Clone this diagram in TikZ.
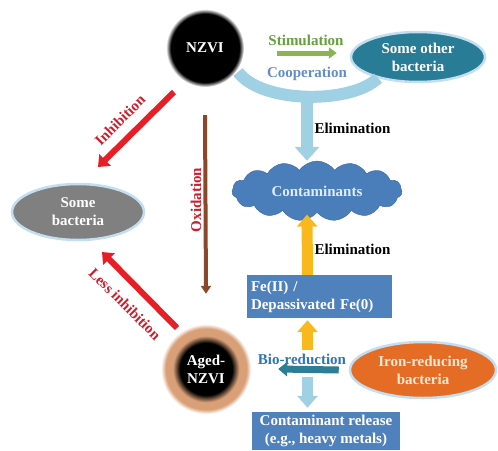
\documentclass[tikz,border=0pt]{standalone}
\usepackage{fontspec}
\setmainfont{Liberation Serif}
\usetikzlibrary{shapes.geometric,shapes.symbols,arrows.meta,calc}
\definecolor{cloudblue}{RGB}{74,126,187}
\definecolor{cloudedge}{RGB}{60,100,160}
\definecolor{boxblue}{RGB}{79,129,189}
\definecolor{tealell}{RGB}{40,124,150}
\definecolor{glow}{RGB}{195,222,240}
\definecolor{orangeell}{RGB}{228,108,37}
\definecolor{grayell}{RGB}{128,128,128}
\definecolor{tanhalo}{RGB}{217,160,120}
\definecolor{redarr}{RGB}{232,30,38}
\definecolor{redtxt}{RGB}{205,30,45}
\definecolor{brownarr}{RGB}{140,70,40}
\definecolor{greentxt}{RGB}{100,160,60}
\definecolor{greenarr}{RGB}{140,180,80}
\definecolor{cooptxt}{RGB}{100,140,200}
\definecolor{lightblue}{RGB}{160,208,228}
\definecolor{yellowarr}{RGB}{248,184,30}
\definecolor{biotxt}{RGB}{46,117,182}
\definecolor{bioarr}{RGB}{45,125,150}
\definecolor{conttxt}{RGB}{225,235,250}
\definecolor{creamtxt}{RGB}{252,232,215}
\pgfdeclareradialshading{nzvishade}{\pgfpoint{0bp}{0bp}}{color(0bp)=(black); color(22bp)=(black); color(25bp)=(white); color(50bp)=(white)}
\pgfdeclareradialshading{agedshade}{\pgfpoint{0bp}{0bp}}{color(0bp)=(black); color(14.5bp)=(black); color(18.5bp)=(tanhalo); color(22.5bp)=(tanhalo); color(25bp)=(white); color(50bp)=(white)}
\tikzset{
  lbl/.style={font=\bfseries\fontsize{15}{18}\selectfont},
  ell/.style={ellipse, lbl, align=center, inner sep=0pt},
  boxnode/.style={rectangle, fill=boxblue, text=white, lbl},
  redarrow/.style={draw=redarr, line width=6pt, -{Triangle[length=10pt,width=16pt]}},
}
\begin{document}
\begin{tikzpicture}[x=1pt,y=-1pt]
\useasboundingbox (0,0) rectangle (498,450);
% nodes
\node[circle, minimum size=78pt, shading=nzvishade, text=white, lbl] (nzvi) at (205,48) {NZVI};
\node[ell, fill=tealell, draw=glow, line width=2.5pt, minimum width=134pt, minimum height=50pt, text=white] (other) at (418,57) {Some other\\bacteria};
\node[ell, fill=grayell, draw=glow, line width=2.5pt, minimum width=132pt, minimum height=56pt, text=white] (sb) at (78,212) {Some\\bacteria};
\node[cloud, cloud puffs=15, cloud puff arc=110, aspect=3, fill=cloudblue, draw=cloudedge, minimum width=170pt, minimum height=60pt, inner sep=0pt, text=conttxt, lbl] (cont) at (317,191) {Contaminants};
\node[boxnode, text width=137pt, align=left, inner xsep=4pt, minimum height=43pt] (fe) at (319.5,296.5) {Fe(II) /\\Depassivated Fe(0)};
\node[boxnode, align=center, minimum width=148pt, minimum height=38pt, inner sep=0pt] (rel) at (326,431) {Contaminant release\\(e.g., heavy metals)};
\node[ell, fill=orangeell, draw=glow, line width=2.5pt, minimum width=146pt, minimum height=56pt, text=creamtxt] (irb) at (423,370) {Iron-reducing\\bacteria};
\node[circle, minimum size=90pt, shading=agedshade, text=white, lbl, align=center] (aged) at (206,369) {Aged-\\NZVI};
% hub coordinates
\coordinate (coopmid) at (307,94);
\coordinate (hubup) at (307.5,350);
\coordinate (hubdown) at (307.5,377);
% connectors
\draw[greenarr, line width=5pt, -{Triangle[length=8pt,width=11pt]}] ([yshift=-5pt]nzvi.east) ++(33,0) -- ([yshift=4pt,xshift=-13pt]other.west);
\draw[lightblue, line width=12pt] ($(nzvi)+(33,24)$) .. controls (262,104) and (352,104) .. ($(other)+(-40,21)$);
\draw[lightblue, line width=12pt, -{Triangle[length=14pt,width=24pt]}] (coopmid) -- ([xshift=-10pt]cont.north);
\draw[brownarr, line width=4pt, -{Triangle[length=8pt,width=10pt]}] (nzvi.south) ++(0,28) -- ([yshift=30pt]aged.north);
\draw[redarrow] ($(nzvi)+(-31,44)$) -- ($(sb)+(20,-45)$);
\draw[redarrow] ($(aged)+(-29,-41)$) -- ($(sb)+(24,40)$);
\draw[yellowarr, line width=11pt, -{Triangle[length=12pt,width=20pt]}] ([xshift=-12pt]fe.north) -- ([xshift=-10pt,yshift=-2pt]cont.south);
\draw[yellowarr, line width=11pt, -{Triangle[length=12pt,width=20pt]}] (hubup) -- ([xshift=-12pt,yshift=-2pt]fe.south);
\draw[lightblue, line width=11pt, -{Triangle[length=12pt,width=20pt]}] (hubdown) -- ([xshift=-18.5pt,yshift=4pt]rel.north);
\draw[bioarr, line width=7pt, -{Triangle[length=9pt,width=14pt]}] ([xshift=-10pt]irb.west) -- ([xshift=27pt]aged.east);
% labels
\node[lbl, text=greentxt] (stim) at (306,40) {Stimulation};
\node[lbl, text=cooptxt] (coop) at (307,74) {Cooperation};
\node[lbl, anchor=west] (elim1) at (311,128) {Elimination};
\node[lbl, anchor=west] (elim2) at (311,249) {Elimination};
\node[lbl, text=biotxt] (bio) at (302,359) {Bio-reduction};
\node[lbl, text=redtxt, rotate=90] (oxi) at (196,200) {Oxidation};
\node[lbl, text=redtxt, rotate=45] (inh) at (120,120) {Inhibition};
\node[lbl, text=redtxt, rotate=-45] (linh) at (125,304) {Less inhibition};
\end{tikzpicture}
\end{document}
